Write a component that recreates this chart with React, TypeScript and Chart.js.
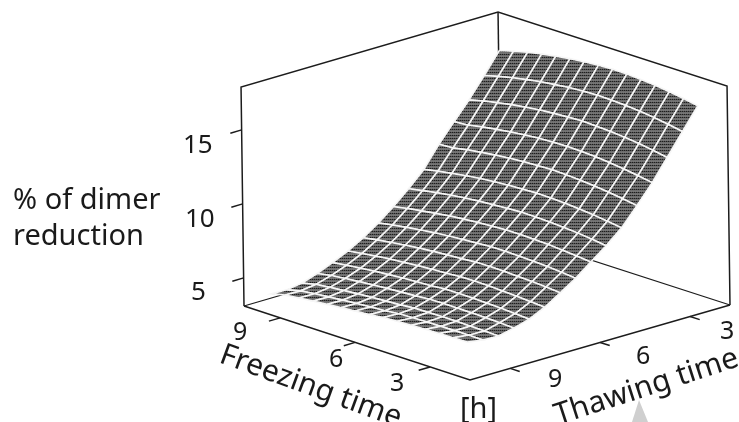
import React, { useEffect, useRef } from "react";
import { Chart, registerables } from "chart.js";

Chart.register(...registerables);

const freezingHours = [2.12, 2.68, 3.24, 3.8, 4.36, 4.92, 5.48, 6.04, 6.61, 7.17, 7.73, 8.29, 8.85, 9.41, 9.97];
const thawingHours = [9.82, 9.3, 8.78, 8.27, 7.75, 7.23, 6.71, 6.19, 5.68, 5.16, 4.64, 4.12, 3.6, 3.09, 2.57, 2.05];

// % of dimer reduction: one row per freezing time, one column per thawing time
const dimerReduction = [
  [4.96, 4.8, 4.76, 5.0, 5.3, 5.8, 6.47, 7.15, 7.95, 8.75, 9.65, 10.85, 12.1, 13.5, 14.95, 16.38],
  [4.95, 4.81, 4.79, 5.05, 5.36, 5.87, 6.55, 7.24, 8.05, 8.88, 9.79, 11.01, 12.26, 13.67, 15.12, 16.56],
  [4.92, 4.81, 4.81, 5.08, 5.41, 5.93, 6.61, 7.32, 8.13, 8.98, 9.91, 11.14, 12.4, 13.82, 15.27, 16.72],
  [4.9, 4.79, 4.83, 5.1, 5.45, 5.97, 6.65, 7.37, 8.2, 9.05, 10.0, 11.25, 12.52, 13.93, 15.39, 16.84],
  [4.86, 4.77, 4.82, 5.11, 5.47, 6.01, 6.69, 7.4, 8.24, 9.11, 10.07, 11.33, 12.61, 14.02, 15.47, 16.92],
  [4.82, 4.75, 4.81, 5.11, 5.48, 6.02, 6.7, 7.43, 8.26, 9.14, 10.12, 11.38, 12.66, 14.07, 15.52, 16.98],
  [4.77, 4.71, 4.79, 5.09, 5.48, 6.01, 6.69, 7.42, 8.26, 9.16, 10.14, 11.42, 12.69, 14.11, 15.55, 17.0],
  [4.65, 4.61, 4.7, 5.01, 5.39, 5.93, 6.61, 7.35, 8.2, 9.1, 10.1, 11.38, 12.66, 14.06, 15.51, 16.96],
  [4.58, 4.54, 4.64, 4.95, 5.34, 5.88, 6.55, 7.29, 8.14, 9.04, 10.05, 11.33, 12.61, 14.0, 15.44, 16.88],
  [4.5, 4.47, 4.58, 4.89, 5.29, 5.82, 6.48, 7.21, 8.06, 8.97, 9.97, 11.26, 12.53, 13.92, 15.33, 16.78],
  [4.41, 4.39, 4.51, 4.81, 5.21, 5.73, 6.39, 7.12, 7.96, 8.87, 9.88, 11.16, 12.42, 13.8, 15.21, 16.64],
  [4.32, 4.3, 4.42, 4.73, 5.13, 5.65, 6.28, 7.0, 7.83, 8.75, 9.76, 11.04, 12.29, 13.66, 15.05, 16.48],
  [4.22, 4.2, 4.33, 4.63, 5.02, 5.53, 6.15, 6.87, 7.69, 8.61, 9.61, 10.9, 12.14, 13.48, 14.86, 16.28],
  [4.11, 4.09, 4.22, 4.52, 4.91, 5.4, 6.02, 6.72, 7.54, 8.44, 9.45, 10.72, 11.95, 13.29, 14.65, 16.04],
  [3.88, 3.85, 4.01, 4.35, 4.78, 5.26, 5.85, 6.55, 7.35, 8.26, 9.26, 10.66, 11.88, 13.05, 14.4, 15.78],
];

const freezingTicks = [3, 6, 9];
const thawingTicks = [3, 6, 9];
const dimerTicks = [5, 10, 15];
const boxFreezing = [1.4, 10.45];
const boxThawing = [10.34, 1.67];
const boxDimer = [3.1, 17.9];

const W = 739;
const H = 422;

function project(f: number, t: number, z: number) {
  const u = (f - boxFreezing[0]) / (boxFreezing[1] - boxFreezing[0]);
  const v = (t - boxThawing[0]) / (boxThawing[1] - boxThawing[0]);
  const lift = z - boxDimer[0];
  return {
    x: 470 - 226 * u + 260 * v - 0.2 * lift - 3 * u * v,
    y: 380 - 74 * u - 75 * v - 14.8 * lift,
  };
}

function makePattern(): CanvasPattern | string {
  const c = document.createElement("canvas");
  c.width = 2;
  c.height = 3;
  const g = c.getContext("2d");
  if (!g) return "#5a5a5a";
  g.fillStyle = "#6e6e6e";
  g.fillRect(0, 0, 2, 3);
  g.fillStyle = "#1e1e1e";
  g.fillRect(0, 0, 1, 1);
  g.fillStyle = "#505050";
  g.fillRect(1, 0, 1, 1);
  g.fillStyle = "#7a7a7a";
  g.fillRect(1, 2, 1, 1);
  return g.createPattern(c, "repeat") || "#5a5a5a";
}

const ink = "#1c1c1c";

function line(points: { x: number; y: number }[], width = 1.5) {
  return {
    data: points,
    showLine: true,
    fill: false,
    borderColor: ink,
    borderWidth: width,
    pointRadius: 0,
    clip: false,
  };
}

function buildDatasets() {
  const pattern = makePattern();
  const cells: any[] = [];
  for (let i = 0; i < freezingHours.length - 1; i++) {
    for (let j = 0; j < thawingHours.length - 1; j++) {
      const corner = (a: number, b: number) => project(freezingHours[a], thawingHours[b], dimerReduction[a][b]);
      cells.push({
        data: [corner(i, j), corner(i + 1, j), corner(i + 1, j + 1), corner(i, j + 1), corner(i, j)],
        showLine: true,
        fill: "shape",
        backgroundColor: pattern,
        borderColor: "#f6f6f6",
        borderWidth: 1.6,
        pointRadius: 0,
        clip: false,
      });
    }
  }
  const [f0, f1] = boxFreezing;
  const [t0, t1] = boxThawing;
  const [z0, z1] = boxDimer;
  const box = [
    line([project(f1, t0, z0), project(f1, t0, z1), project(f1, t1, z1), project(f0, t1, z1), project(f0, t1, z0)]),
    line([project(f1, t1, z0), project(f1, t1, z1)]),
    line([project(f1, t0, z0), project(f0, t0, z0), project(f0, t1, z0)]),
    line([project(f1, t0, z0), project(f1, t1, z0), project(f0, t1, z0)], 1.2),
  ];
  const ticks = [
    ...dimerTicks.map((z) => line([project(f1, t0, z), project(f1, t0 + 0.38, z)])),
    ...freezingTicks.map((f) => line([project(f, t0, z0), project(f, t0 + 0.38, z0)])),
    ...thawingTicks.map((t) => line([project(f0, t, z0), project(f0 - 0.38, t, z0)])),
  ];
  // Chart.js paints the first dataset last: front cells first in the list
  return [...ticks, ...cells, ...box];
}

const texts: [string, number, number, number, number][] = [
  ["% of dimer", 13, 209, 0, 29],
  ["reduction", 13, 245, 0, 29],
  ["15", 183, 153, 0, 26],
  ["10", 185, 227, 0, 26],
  ["5", 191, 300, 0, 26],
  ["9", 233, 340, 0, 25],
  ["6", 329, 367, 0, 25],
  ["3", 390, 391, 0, 25],
  ["9", 548, 387, 0, 25],
  ["6", 636, 364, 0, 25],
  ["3", 720, 339, 0, 25],
  ["Freezing time", 218, 362, 20, 30],
  ["[h]", 460, 418, 0, 29],
  ["Thawing time", 558, 425, -18, 30],
];

const labelsPlugin = {
  id: "labels3d",
  beforeDraw(chart: any) {
    const { ctx } = chart;
    ctx.save();
    ctx.fillStyle = "#ffffff";
    ctx.fillRect(0, 0, W, H);
    ctx.fillStyle = "#cfcfcf";
    ctx.beginPath();
    ctx.moveTo(639, 400);
    ctx.lineTo(632, 422);
    ctx.lineTo(648, 422);
    ctx.closePath();
    ctx.fill();
    ctx.restore();
  },
  afterDraw(chart: any) {
    const { ctx } = chart;
    ctx.save();
    ctx.fillStyle = "#1a1a1a";
    ctx.textBaseline = "alphabetic";
    ctx.textAlign = "left";
    for (const [s, x, y, deg, size] of texts) {
      ctx.save();
      ctx.translate(x, y);
      ctx.rotate((deg * Math.PI) / 180);
      ctx.font = `${size}px "Noto Sans"`;
      ctx.fillText(s, 0, 0);
      ctx.restore();
    }
    ctx.restore();
  },
};

export default function App() {
  const ref = useRef<HTMLCanvasElement>(null);
  useEffect(() => {
    if (!ref.current) return;
    const chart = new Chart(ref.current, {
      type: "scatter",
      data: { datasets: buildDatasets() },
      options: {
        animation: false,
        responsive: false,
        layout: { padding: 0 },
        scales: {
          x: { type: "linear", display: false, min: 0, max: W },
          y: { type: "linear", display: false, min: 0, max: H, reverse: true },
        },
        plugins: {
          legend: { display: false },
          tooltip: { enabled: false },
          filler: { drawTime: "beforeDatasetDraw" },
        },
      },
      plugins: [labelsPlugin],
    } as any);
    return () => chart.destroy();
  }, []);
  return (
    <canvas
      ref={ref}
      width={W}
      height={H}
      style={{ position: "absolute", left: 0, top: 0, display: "block", width: W, height: H }}
    />
  );
}
